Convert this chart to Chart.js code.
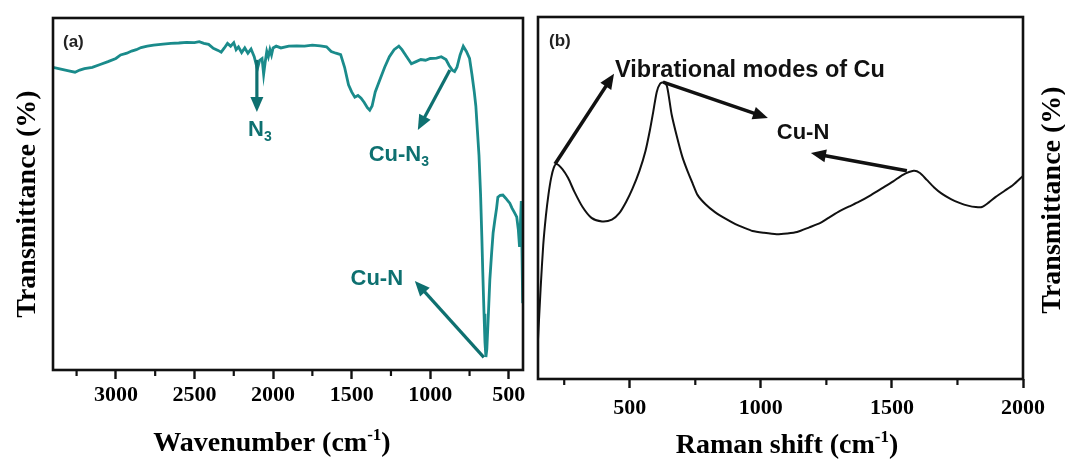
<!DOCTYPE html>
<html><head><meta charset="utf-8">
<script src="https://cdn.jsdelivr.net/npm/chart.js@4.4.1/dist/chart.umd.min.js"></script>
<style>
html,body{margin:0;padding:0;background:#fff;overflow:hidden}
#wrap{position:relative;width:1065px;height:459px;background:#fff}
canvas{position:absolute;top:0}
#ca{left:0}
#cb{left:530px}
</style></head><body>
<div id="wrap"><canvas id="ca" width="530" height="459"></canvas><canvas id="cb" width="535" height="459"></canvas></div>
<script>
// ---------- Panel (a): FTIR ----------
const ftirWavenumber = [3400,3350,3300,3260,3230,3200,3150,3100,3050,3000,2970,2930,2900,2870,2840,2800,2760,2700,2650,2600,2550,2500,2470,2440,2410,2380,2350,2330,2310,2290,2270,2250,2235,2220,2200,2180,2160,2140,2120,2100,2085,2070,2060,2050,2040,2030,2020,2010,2000,1980,1950,1900,1850,1800,1750,1700,1660,1630,1600,1570,1545,1520,1500,1480,1460,1440,1420,1400,1385,1370,1350,1320,1290,1260,1230,1200,1180,1150,1120,1090,1060,1030,1000,960,930,900,880,860,845,830,810,790,770,750,735,720,710,700,690,680,672,666,658,652,646,640,632,621,610,600,589,578,570,555,538,520,505,494,480,465,450,440,432,426,421,416,412];
const ftirTransmittance = [86.0,85.5,85.0,84.6,85.2,85.6,86.0,86.8,87.6,88.5,89.5,90.0,90.6,91.0,91.6,92.0,92.3,92.6,92.8,92.9,93.1,93.0,93.3,92.8,92.5,91.4,90.8,90.3,91.5,92.8,92.0,93.0,91.0,91.8,90.2,91.5,90.0,91.2,89.0,85.5,88.0,88.5,84.0,87.5,90.5,89.0,91.0,89.5,91.5,92.0,91.5,92.0,92.1,92.0,92.3,92.1,91.8,90.5,90.0,89.6,86.0,81.0,79.0,77.5,78.0,77.2,76.0,74.5,73.8,75.0,79.0,82.5,86.0,89.0,91.0,92.0,91.0,89.0,87.0,87.6,88.2,88.0,88.5,88.6,89.0,88.2,86.5,85.2,84.8,86.0,89.5,92.0,90.5,88.5,84.0,79.0,75.0,68.0,61.0,50.0,38.0,28.0,16.0,8.0,3.7,6.0,14.0,25.6,33.0,39.0,42.6,46.0,49.1,49.6,49.7,48.8,48.0,47.4,46.0,44.8,43.5,40.0,35.0,42.0,48.0,32.0,19.0];
const ftirTicks = [3000,2500,2000,1500,1000,500];
const ftirMinorTicks = [3250,2750,2250,1750,1250,750];
const ftirArrows = [[2103,88.1,2103,73.3],[875,85.2,1079,68.2],[659,3.6,1098,25.3]];
const ftirLabels = [
  {parts:[['N',0],['3',-1]], x:2084, y:68.8},
  {parts:[['Cu-N',0],['3',-1]], x:1200, y:61.6},
  {parts:[['Cu-N',0]], x:1340, y:26.4}
];

// ---------- Panel (b): Raman ----------
const ramanShift = [150,160,170,180,190,200,210,220,243,265,289,320,354,394,432,460,486,510,537,560,577,590,603,615,629,642,660,680,700,720,740,759,790,825,865,903,935,968,1010,1060,1100,1138,1185,1229,1260,1294,1335,1373,1420,1465,1505,1542,1583,1607,1633,1660,1690,1725,1760,1790,1820,1843,1870,1896,1930,1962,2000];
const ramanIntensity = [10.9,25,37,45,51,55.5,58.3,59.4,58.0,55.5,51.7,47.5,44.5,43.5,44.0,45.8,48.9,52.5,57.5,63,68.8,74,79.3,81.5,82.0,80.9,73,66.9,61.5,57.5,54,50.8,48.2,46.1,44.3,42.8,41.8,40.9,40.4,40.0,40.2,40.6,41.9,43.2,44.6,46.1,47.6,48.9,50.8,52.8,54.6,56.4,57.5,56.9,55.0,53.0,51.2,49.7,48.6,47.9,47.5,47.5,48.8,50.3,52.0,53.6,56.1];
const ramanTicks = [500,1000,1500,2000];
const ramanMinorTicks = [250,750,1250,1750];
const ramanArrows = [[215,59.4,440,84.3],[627,82.0,1027,72.1],[1557,57.5,1191,62.4]];
const ramanLabels = [
  {parts:[['Vibrational modes of Cu',0]], x:444, y:85.9, align:'left', size:23.5},
  {parts:[['Cu-N',0]], x:1161, y:68.5}
];

const SERIF = '"Liberation Serif","Times New Roman",serif';
const SANS = '"Liberation Sans",Arial,sans-serif';
const TEAL = '#1a8b8b';
const TEAL_D = '#0e7070';

function drawRich(ctx, parts, x, y, size, weight, family, color, align) {
  const small = Math.round(size * 0.62);
  let w = 0;
  const ws = parts.map(([t, m]) => { ctx.font = `${weight} ${m ? small : size}px ${family}`; const v = ctx.measureText(t).width; w += v; return v; });
  let cx = align === 'center' ? x - w / 2 : (align === 'right' ? x - w : x);
  ctx.fillStyle = color; ctx.textAlign = 'left'; ctx.textBaseline = 'alphabetic';
  parts.forEach(([t, m], i) => {
    ctx.font = `${weight} ${m ? small : size}px ${family}`;
    const dy = m === 1 ? -size * 0.4 : (m === -1 ? size * 0.22 : 0);
    ctx.fillText(t, cx, y + dy);
    cx += ws[i];
  });
}

function arrow(ctx, x1, y1, x2, y2, color, lw, hl, hw) {
  const a = Math.atan2(y2 - y1, x2 - x1);
  const bx = x2 - Math.cos(a) * hl * 0.8, by = y2 - Math.sin(a) * hl * 0.8;
  ctx.save();
  ctx.strokeStyle = color; ctx.fillStyle = color; ctx.lineWidth = lw; ctx.lineCap = 'butt';
  ctx.beginPath(); ctx.moveTo(x1, y1); ctx.lineTo(bx, by); ctx.stroke();
  ctx.beginPath();
  ctx.moveTo(x2, y2);
  ctx.lineTo(x2 - Math.cos(a) * hl + Math.sin(a) * hw / 2, y2 - Math.sin(a) * hl - Math.cos(a) * hw / 2);
  ctx.lineTo(x2 - Math.cos(a) * hl - Math.sin(a) * hw / 2, y2 - Math.sin(a) * hl + Math.cos(a) * hw / 2);
  ctx.closePath(); ctx.fill();
  ctx.restore();
}

function makeDecor(cfg) {
  return {
    id: 'decor' + cfg.tag,
    afterDraw(chart) {
      const ctx = chart.ctx, a = chart.chartArea, xs = chart.scales.x, ys = chart.scales.y;
      ctx.save();
      ctx.strokeStyle = '#111'; ctx.lineWidth = 2.6;
      ctx.strokeRect(a.left, a.top, a.right - a.left, a.bottom - a.top);
      ctx.lineWidth = 2.2;
      cfg.minor.forEach(v => {
        const px = xs.getPixelForValue(v);
        ctx.beginPath(); ctx.moveTo(px, a.bottom); ctx.lineTo(px, a.bottom + 6); ctx.stroke();
      });
      cfg.arrows.forEach(([x1, y1, x2, y2]) => {
        arrow(ctx, xs.getPixelForValue(x1), ys.getPixelForValue(y1), xs.getPixelForValue(x2), ys.getPixelForValue(y2), cfg.annColor, cfg.arrowW, 15, 13);
      });
      cfg.labels.forEach(l => {
        const px = xs.getPixelForValue(l.x), py = ys.getPixelForValue(l.y);
        const sz = l.size || cfg.annSize;
        drawRich(ctx, l.parts, px, py + sz * 0.36, sz, cfg.annWeight, SANS, cfg.annColor, l.align || 'center');
      });
      drawRich(ctx, [[cfg.panel, 0]], a.left + cfg.panelDx, a.top + 29, 17, 'bold', SANS, '#222', 'left');
      drawRich(ctx, cfg.xtitle, cfg.xtitleX, cfg.xtitleY, 28, 'bold', SERIF, '#000', 'center');
      ctx.save();
      ctx.translate(cfg.ytitleX, cfg.ytitleY);
      ctx.rotate(-Math.PI / 2);
      drawRich(ctx, [['Transmittance (%)', 0]], 0, 0, 28, 'bold', SERIF, '#000', 'center');
      ctx.restore();
      ctx.restore();
    }
  };
}

function makeChart(id, xsArr, ysArr, opts) {
  const data = xsArr.map((x, i) => ({x: x, y: ysArr[i]}));
  return new Chart(document.getElementById(id), {
    type: 'scatter',
    data: {datasets: [{data: data, showLine: true, borderColor: opts.color, borderWidth: opts.lw, pointRadius: 0, tension: opts.tension, fill: false}]},
    options: {
      responsive: false, animation: false, devicePixelRatio: 1,
      layout: {padding: opts.padding},
      plugins: {legend: {display: false}, tooltip: {enabled: false}},
      scales: {
        x: {
          type: 'linear', reverse: opts.reverse, min: opts.min, max: opts.max,
          afterBuildTicks: s => { s.ticks = opts.ticks.map(v => ({value: v})); },
          afterFit: s => { s.height = opts.axisH; },
          grid: {drawOnChartArea: false, drawTicks: true, tickLength: 9, tickWidth: 2.4, tickColor: '#111', color: '#111'},
          border: {display: false},
          ticks: {color: '#000', autoSkip: false, maxRotation: 0, padding: opts.tickPad, callback: v => String(v), font: {family: SERIF, size: 22, weight: 'bold'}}
        },
        y: {display: false, min: 0, max: 100}
      }
    },
    plugins: [makeDecor(opts.decor)]
  });
}

makeChart('ca', ftirWavenumber, ftirTransmittance, {
  color: TEAL, lw: 2.8, tension: 0, reverse: true, min: 410, max: 3400, ticks: ftirTicks,
  padding: {left: 53, right: 7, top: 18, bottom: 0}, axisH: 89, tickPad: 3,
  decor: {tag: 'a', minor: ftirMinorTicks, arrows: ftirArrows, labels: ftirLabels, annColor: TEAL_D, annSize: 22, annWeight: 'bold', arrowW: 3.2,
    panel: '(a)', panelDx: 10, xtitle: [['Wavenumber (cm', 0], ['-1', 1], [')', 0]], xtitleX: 272, xtitleY: 451, ytitleX: 35, ytitleY: 204}
});

makeChart('cb', ramanShift, ramanIntensity, {
  color: '#111', lw: 2, tension: 0.25, reverse: false, min: 150, max: 2000, ticks: ramanTicks,
  padding: {left: 8, right: 42, top: 17, bottom: 0}, axisH: 80, tickPad: 7,
  decor: {tag: 'b', minor: ramanMinorTicks, arrows: ramanArrows, labels: ramanLabels, annColor: '#111', annSize: 22, annWeight: 'bold', arrowW: 3.6,
    panel: '(b)', panelDx: 11, xtitle: [['Raman shift (cm', 0], ['-1', 1], [')', 0]], xtitleX: 257, xtitleY: 453, ytitleX: 530, ytitleY: 200}
});
</script>
</body></html>
